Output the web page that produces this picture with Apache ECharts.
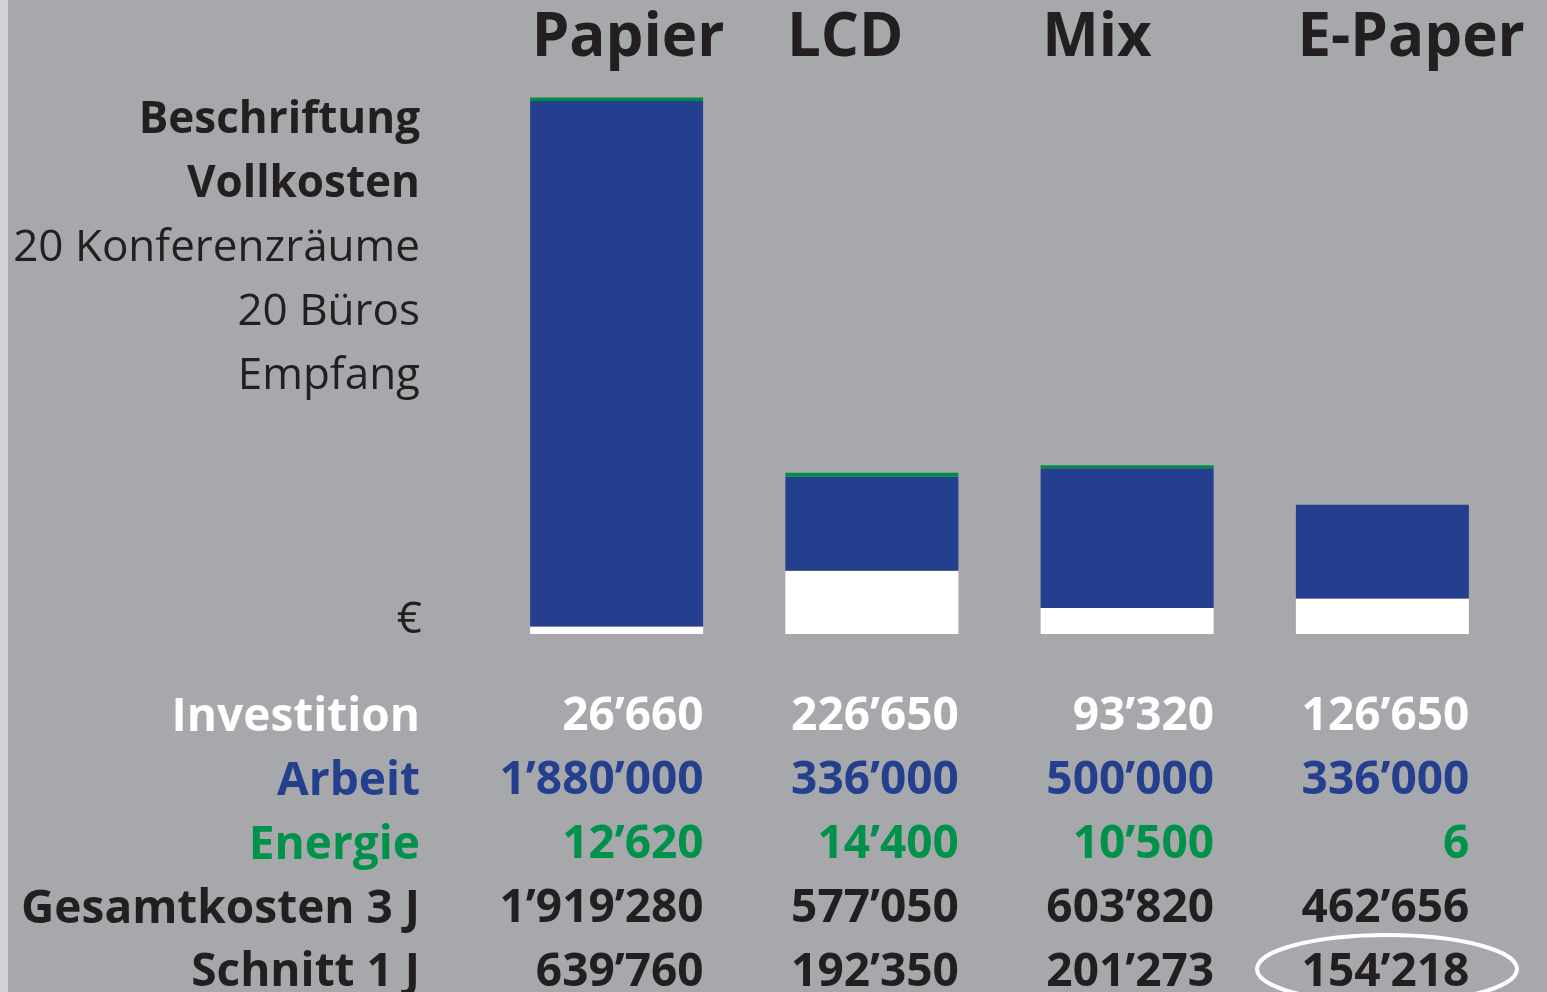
<!DOCTYPE html>
<html>
<head>
<meta charset="utf-8">
<script src="https://cdn.jsdelivr.net/npm/echarts@6/dist/echarts.min.js"></script>
<style>
html,body{margin:0;padding:0;background:#a7a8ab;}
#c{width:1547px;height:992px;}
</style>
</head>
<body>
<div id="c"></div>
<script>
const categories = ['Papier', 'LCD', 'Mix', 'E-Paper'];
const investition = [26660, 226650, 93320, 126650];
const arbeit = [1880000, 336000, 500000, 336000];
const energie = [12620, 14400, 10500, 6];
const gesamtkosten = [1919280, 577050, 603820, 462656];
const schnitt = [639760, 192350, 201273, 154218];
const rowLabels = ['Investition', 'Arbeit', 'Energie', 'Gesamtkosten 3 J', 'Schnitt 1 J'];
const headerLines = ['Beschriftung', 'Vollkosten', '20 Konferenzräume', '20 Büros', 'Empfang'];

const WHITE = '#ffffff', BLUE = '#243f8e', GREEN = '#008c45', DARK = '#231f20', GREENTXT = '#00924a';
const FONT = '"Open Sans", "Noto Sans", sans-serif';

function fmt(v) {
  return String(v).replace(/\B(?=(\d{3})+(?!\d))/g, '\u2019');
}

const rows = [investition, arbeit, energie, gesamtkosten, schnitt];
const rowColors = [WHITE, BLUE, GREENTXT, DARK, DARK];

const chart = echarts.init(document.getElementById('c'), null, {renderer: 'canvas'});

const xAxes = [{
  type: 'category', gridIndex: 0, position: 'top', data: categories,
  axisLine: {show: false}, axisTick: {show: false}, splitLine: {show: false},
  axisLabel: {
    interval: 0, align: 'left', verticalAlign: 'middle', margin: 36,
    padding: [0, 0, 0, -85],
    fontFamily: FONT, fontWeight: 'bold', fontSize: 60, color: DARK
  }
}];
rows.forEach((r, i) => {
  xAxes.push({
    type: 'category', gridIndex: 0, position: 'bottom', offset: i * 64, data: categories,
    axisLine: {show: false}, axisTick: {show: false}, splitLine: {show: false},
    axisLabel: {
      interval: 0, align: 'right', verticalAlign: 'middle', margin: 83,
      padding: [0, -87, 0, 0],
      formatter: (v, idx) => fmt(r[idx]),
      fontFamily: FONT, fontWeight: 'bold', fontSize: 46, color: rowColors[i]
    }
  });
});

const graphic = [
  {type: 'rect', shape: {x: 0, y: 0, width: 8, height: 992}, style: {fill: '#d1d2d4'}, z: -1}
];
const headerY = [120, 184, 248, 312, 376];
headerLines.forEach((t, i) => {
  graphic.push({
    type: 'text', x: 420, y: headerY[i],
    style: {text: t, textAlign: 'right', textVerticalAlign: 'middle',
      font: (i < 2 ? 'bold 44px ' : '44px ') + FONT, fill: DARK}
  });
});
graphic.push({type: 'text', x: 422, y: 620,
  style: {text: '€', textAlign: 'right', textVerticalAlign: 'middle', font: '44px ' + FONT, fill: DARK}});
const rowY = [718, 782, 846, 910, 973];
rowLabels.forEach((t, i) => {
  graphic.push({
    type: 'text', x: 420, y: rowY[i],
    style: {text: t, textAlign: 'right', textVerticalAlign: 'middle',
      font: 'bold 46px ' + FONT, fill: rowColors[i]}
  });
});
graphic.push({type: 'ellipse', shape: {cx: 1387, cy: 969, rx: 130, ry: 34},
  style: {fill: 'none', stroke: '#ffffff', lineWidth: 4}});

chart.setOption({
  backgroundColor: '#a7a8ab',
  animation: false,
  grid: {left: 489, width: 1021, top: 75, height: 559, containLabel: false, outerBoundsMode: 'none'},
  xAxis: xAxes,
  yAxis: {type: 'value', min: 0, max: 2000000, show: false},
  series: [
    {name: 'Investition', type: 'bar', stack: 'a', barWidth: 173, data: investition, itemStyle: {color: WHITE}},
    {name: 'Arbeit', type: 'bar', stack: 'a', barWidth: 173, data: arbeit, itemStyle: {color: BLUE}},
    {name: 'Energie', type: 'bar', stack: 'a', barWidth: 173, data: energie, itemStyle: {color: GREEN}}
  ],
  graphic: graphic
});
</script>
</body>
</html>
